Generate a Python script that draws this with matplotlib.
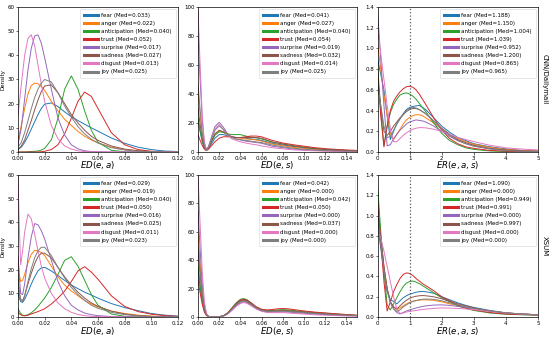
import matplotlib
matplotlib.use('Agg')
import matplotlib.pyplot as plt

emotions = ['fear', 'anger', 'anticipation', 'trust', 'surprise', 'sadness', 'disgust', 'joy']

ed_a_x_cnn = [0, .0025, .005, .0075, .01, .0125, .015, .0175, .02, .025, .03, .035, .04,
              .045, .05, .055, .06, .07, .08, .09, .10, .11, .12]
ed_a_x_xsum = [0, .001, .002, .0035, .005, .0075, .01, .0125, .015, .0175, .02, .025, .03,
               .035, .04, .045, .05, .055, .06, .07, .08, .09, .10, .11, .12]
ed_s_x_cnn = [0, .002, .004, .006, .008, .01, .013, .016, .02, .024, .028, .032, .036, .04,
              .045, .05, .055, .06, .07, .08, .09, .10, .11, .12, .13, .14, .15]
ed_s_x_xsum = [0, .002, .004, .006, .008, .01, .012, .016, .02, .024, .028, .032, .036, .04,
               .043, .046, .05, .055, .06, .065, .07, .075, .08, .085, .09, .1, .11, .12,
               .13, .14, .15]
er_x = [0, .1, .2, .3, .4, .5, .6, .7, .8, .9, 1.0, 1.1, 1.2, 1.3, 1.4, 1.5, 1.75, 2,
        2.25, 2.5, 2.75, 3, 3.5, 4, 4.5, 5]

# ---- CNN/Dailymail: ED(e, a) ----
cnn_ed_a = [
    [1, 2, 4, 6.5, 9.5, 12.5, 15.5, 18, 19.8, 20.3, 18.8, 16.6, 14.6, 13, 11.5, 10, 8.6, 5.8, 3.6, 2, 1, 0.4, 0.2],
    [5, 11, 18, 24, 27.5, 28.5, 28.3, 27, 25.5, 21, 17, 13.5, 11, 8.5, 6.5, 5, 3.8, 2, 1, 0.5, 0.2, 0.1, 0],
    [0, 0, 0, 0.1, 0.2, 0.3, 0.4, 0.8, 1.5, 5, 14, 26, 31.5, 26, 17, 9, 4, 0.7, 0.1, 0, 0, 0, 0],
    [0, 0, 0, 0, 0, 0, 0, 0.1, 0.3, 1, 3, 7.5, 14, 21, 24.8, 23, 18, 8, 3, 1, 0.3, 0.1, 0],
    [3, 10, 22, 34, 43, 48, 48.5, 45, 39, 26, 14, 7, 3, 1.3, 0.5, 0.2, 0.1, 0, 0, 0, 0, 0, 0],
    [1, 2.5, 5, 9, 13, 17.5, 21.5, 25, 27.3, 27.8, 24.5, 20, 15.5, 12, 9, 6.5, 4.8, 2.5, 1.2, 0.5, 0.2, 0.1, 0],
    [15, 28, 40, 47, 48.5, 44, 36, 28, 21, 11, 5.5, 2.5, 1.2, 0.5, 0.2, 0.1, 0, 0, 0, 0, 0, 0, 0],
    [2, 4, 8, 13, 18, 22.5, 26, 28.5, 30, 29, 24.5, 19, 14.5, 10.5, 7.5, 5.3, 3.7, 1.8, 0.8, 0.3, 0.1, 0, 0],
]
cnn_ed_a_med = [0.033, 0.022, 0.040, 0.052, 0.017, 0.027, 0.013, 0.025]

# ---- CNN/Dailymail: ED(e, s) ----
cnn_ed_s = [
    [22, 14, 7, 2.5, 1.2, 2.5, 6, 9.5, 12, 12, 11, 10.3, 10, 10, 9.5, 9, 8.7, 8, 6, 4.8, 3.8, 3, 2.3, 1.8, 1.4, 1.1, 0.9],
    [42, 26, 12, 4, 1.3, 3, 8, 12.5, 14.5, 13.5, 11.5, 10.3, 9.8, 9.5, 9, 8.8, 8.3, 7.5, 5.5, 4.3, 3.2, 2.5, 1.8, 1.3, 1, 0.8, 0.6],
    [23, 15, 8, 3, 1.3, 3, 7.5, 11.5, 14, 13.5, 12.5, 12, 12, 12, 11, 10.3, 9.8, 9, 6.8, 5.5, 4.3, 3.3, 2.5, 1.8, 1.4, 1.1, 0.9],
    [12, 8, 4.5, 2, 1, 2, 4.5, 7, 9.5, 10.5, 10.5, 10.3, 10, 10, 10.5, 11, 11, 10.5, 8, 6.2, 5, 4, 3, 2.3, 1.8, 1.4, 1.1],
    [82, 50, 22, 6, 1.5, 4, 11, 17.5, 20.5, 17, 12.5, 10, 9, 8.3, 7.5, 7, 6.5, 6, 4, 3, 2, 1.5, 1.1, 0.8, 0.6, 0.5, 0.4],
    [30, 19, 9, 3, 1.2, 3, 8, 12.5, 15, 14, 12, 10.5, 10, 10, 10, 10, 10, 9.5, 7, 5.5, 4.2, 3.2, 2.4, 1.8, 1.3, 1, 0.8],
    [98, 60, 25, 7, 1.5, 3.5, 10, 16, 19, 15.5, 11.5, 9, 8, 7, 6.2, 5.5, 5, 4.2, 3, 2.2, 1.5, 1.1, 0.8, 0.6, 0.4, 0.3, 0.2],
    [47, 29, 13, 4, 1.3, 3.5, 9.5, 15, 18, 15.5, 12, 10, 9, 8.5, 8, 7.5, 7, 6.5, 4.8, 3.6, 2.6, 1.9, 1.4, 1, 0.8, 0.6, 0.5],
]
cnn_ed_s_med = [0.041, 0.027, 0.040, 0.054, 0.019, 0.032, 0.014, 0.025]

# ---- CNN/Dailymail: ER(e, a, s) ----
cnn_er = [
    [0.9, 0.75, 0.6, 0.35, 0.12, 0.2, 0.27, 0.32, 0.37, 0.41, 0.43, 0.44, 0.445, 0.45, 0.43, 0.41, 0.33, 0.25, 0.19, 0.14, 0.11, 0.08, 0.05, 0.03, 0.015, 0.01],
    [1.05, 0.8, 0.55, 0.35, 0.18, 0.12, 0.17, 0.22, 0.27, 0.31, 0.335, 0.35, 0.36, 0.36, 0.35, 0.33, 0.28, 0.22, 0.17, 0.13, 0.1, 0.075, 0.045, 0.025, 0.015, 0.01],
    [0.85, 0.4, 0.06, 0.25, 0.38, 0.46, 0.51, 0.55, 0.565, 0.57, 0.56, 0.54, 0.51, 0.47, 0.43, 0.39, 0.28, 0.18, 0.11, 0.07, 0.04, 0.025, 0.01, 0.005, 0.003, 0.002],
    [0.78, 0.35, 0.05, 0.25, 0.4, 0.49, 0.54, 0.58, 0.61, 0.63, 0.635, 0.625, 0.6, 0.56, 0.51, 0.46, 0.33, 0.21, 0.13, 0.08, 0.05, 0.035, 0.015, 0.008, 0.004, 0.002],
    [1.38, 0.9, 0.45, 0.06, 0.07, 0.13, 0.17, 0.21, 0.24, 0.27, 0.29, 0.3, 0.31, 0.305, 0.3, 0.29, 0.25, 0.2, 0.15, 0.11, 0.08, 0.06, 0.03, 0.015, 0.008, 0.005],
    [0.72, 0.45, 0.2, 0.16, 0.2, 0.25, 0.29, 0.33, 0.36, 0.39, 0.41, 0.42, 0.42, 0.41, 0.39, 0.37, 0.3, 0.23, 0.17, 0.12, 0.09, 0.065, 0.035, 0.02, 0.01, 0.006],
    [1.2, 0.95, 0.7, 0.45, 0.22, 0.1, 0.1, 0.13, 0.16, 0.185, 0.205, 0.22, 0.23, 0.235, 0.235, 0.233, 0.22, 0.2, 0.17, 0.14, 0.12, 0.1, 0.065, 0.04, 0.028, 0.02],
    [0.68, 0.45, 0.25, 0.14, 0.15, 0.21, 0.27, 0.32, 0.36, 0.4, 0.42, 0.43, 0.425, 0.41, 0.39, 0.37, 0.3, 0.22, 0.16, 0.11, 0.08, 0.055, 0.03, 0.015, 0.008, 0.005],
]
cnn_er_med = [1.188, 1.150, 1.004, 1.039, 0.952, 1.200, 0.865, 0.965]

# ---- XSUM: ED(e, a) ----
xsum_ed_a = [
    [10, 8, 6.5, 6.2, 7.5, 10.5, 14, 17, 19.5, 20.8, 21, 19.5, 17.5, 15.5, 13.5, 12, 10.5, 9.3, 8, 5.7, 4, 2.7, 1.5, 0.8, 0.4],
    [25, 18, 15, 15.5, 18, 23, 26.5, 28.2, 28, 27.3, 26, 21.5, 17, 13.5, 11, 9, 7, 5.5, 4.3, 2.5, 1.5, 0.8, 0.4, 0.2, 0.1],
    [3.5, 2.5, 1.5, 0.8, 0.6, 1, 1.8, 3, 4.5, 6.3, 8, 12.5, 18, 24, 25.5, 21.5, 15.5, 9.5, 5, 1.3, 0.3, 0.1, 0, 0, 0],
    [1.8, 1.4, 1, 0.6, 0.5, 0.8, 1.3, 1.8, 2.3, 2.9, 3.5, 5.5, 8, 11, 15, 19.5, 21.3, 19, 16, 9, 4.5, 2.3, 1.2, 0.6, 0.3],
    [26, 17, 10, 9.5, 14, 25, 34, 39.5, 39, 36.5, 33, 24, 15, 9, 5, 3, 1.7, 1, 0.6, 0.2, 0.1, 0, 0, 0, 0],
    [15, 10, 7.5, 7, 9, 14, 18.5, 22.5, 25.5, 27, 27, 25, 21, 17, 13.5, 10.5, 8, 6, 4.5, 2.5, 1.3, 0.6, 0.3, 0.1, 0],
    [60, 38, 22, 28, 36, 43.5, 41.5, 35, 28, 21.5, 16.5, 10, 6, 3.5, 2, 1.1, 0.6, 0.3, 0.2, 0.1, 0, 0, 0, 0, 0],
    [18, 11, 7, 6.5, 9, 15, 20.5, 25, 28, 29.5, 29.5, 26, 21, 16.5, 12.5, 9.5, 7, 5, 3.7, 2, 1, 0.5, 0.2, 0.1, 0],
]
xsum_ed_a_med = [0.029, 0.019, 0.040, 0.050, 0.016, 0.025, 0.011, 0.023]

# ---- XSUM: ED(e, s) ----
xsum_ed_s = [
    [33, 21, 11, 4.5, 1.5, 0.4, 0.1, 0, 0.2, 0.8, 2.5, 5.5, 8.5, 10.8, 11.5, 11, 9, 6.5, 4.8, 4.2, 4.2, 4.3, 4.4, 4.2, 3.9, 3.3, 2.8, 2.3, 1.8, 1.4, 1],
    [58, 38, 19, 7, 2, 0.5, 0.1, 0, 0.2, 0.9, 2.8, 6, 9.3, 11.8, 12.3, 11.8, 9.6, 6.8, 5, 4.4, 4.4, 4.6, 4.8, 4.6, 4.2, 3.5, 2.9, 2.4, 1.9, 1.5, 1.1],
    [36, 23, 12, 5, 1.5, 0.4, 0.1, 0, 0.3, 1, 3, 6.5, 10, 12.5, 13, 12.3, 10, 7, 5.2, 4.6, 4.7, 5, 5.2, 5, 4.6, 3.8, 3.2, 2.7, 2.2, 1.6, 1.2],
    [26, 17, 9, 3.5, 1, 0.3, 0.1, 0, 0.2, 0.9, 2.8, 6, 9.5, 12, 12.5, 12, 10, 7.2, 5.5, 5, 5.3, 5.8, 6, 5.8, 5.3, 4.3, 3.5, 2.9, 2.3, 1.8, 1.3],
    [75, 48, 23, 8, 2, 0.5, 0.1, 0, 0.2, 0.7, 2.3, 5, 8, 10, 10.8, 10.3, 8.5, 6, 4.3, 3.6, 3.5, 3.6, 3.7, 3.5, 3.2, 2.6, 2.1, 1.7, 1.3, 1, 0.8],
    [46, 30, 15, 5.5, 1.6, 0.4, 0.1, 0, 0.2, 0.8, 2.6, 5.7, 9, 11.5, 12, 11.5, 9.3, 6.6, 4.9, 4.3, 4.3, 4.5, 4.7, 4.5, 4.1, 3.4, 2.8, 2.3, 1.8, 1.4, 1],
    [100, 65, 32, 11, 2.5, 0.5, 0.1, 0, 0.2, 0.6, 2, 4.6, 7.5, 9.5, 10.2, 9.7, 8, 5.6, 4, 3.3, 3.1, 3.1, 3.1, 2.9, 2.6, 2.1, 1.6, 1.3, 1, 0.8, 0.6],
    [50, 32, 16, 6, 1.7, 0.4, 0.1, 0, 0.2, 0.8, 2.5, 5.5, 8.7, 11, 11.2, 10.8, 9, 6.4, 4.7, 4.1, 4, 4.1, 4.2, 4, 3.7, 3.1, 2.5, 2.1, 1.6, 1.3, 1],
]
xsum_ed_s_med = [0.042, 0.000, 0.042, 0.050, 0.000, 0.037, 0.000, 0.000]

# ---- XSUM: ER(e, a, s) ----
xsum_er = [
    [0.92, 0.68, 0.45, 0.25, 0.17, 0.155, 0.13, 0.16, 0.19, 0.21, 0.225, 0.235, 0.245, 0.25, 0.252, 0.25, 0.235, 0.2, 0.17, 0.14, 0.115, 0.095, 0.065, 0.042, 0.03, 0.022],
    [1.1, 0.8, 0.5, 0.28, 0.15, 0.1, 0.07, 0.09, 0.11, 0.13, 0.145, 0.155, 0.162, 0.167, 0.17, 0.17, 0.165, 0.15, 0.13, 0.115, 0.1, 0.085, 0.06, 0.04, 0.03, 0.022],
    [1.3, 0.85, 0.45, 0.12, 0.07, 0.13, 0.19, 0.25, 0.3, 0.335, 0.35, 0.355, 0.345, 0.33, 0.31, 0.29, 0.24, 0.19, 0.15, 0.11, 0.085, 0.065, 0.04, 0.028, 0.022, 0.018],
    [1.15, 0.75, 0.35, 0.06, 0.15, 0.25, 0.32, 0.38, 0.42, 0.435, 0.43, 0.41, 0.38, 0.355, 0.33, 0.31, 0.26, 0.2, 0.16, 0.12, 0.09, 0.07, 0.045, 0.03, 0.025, 0.02],
    [1.05, 0.75, 0.48, 0.28, 0.15, 0.08, 0.045, 0.03, 0.045, 0.06, 0.07, 0.08, 0.09, 0.097, 0.104, 0.11, 0.118, 0.12, 0.115, 0.105, 0.095, 0.085, 0.06, 0.04, 0.03, 0.022],
    [1.08, 0.78, 0.5, 0.28, 0.15, 0.1, 0.08, 0.11, 0.14, 0.165, 0.185, 0.197, 0.205, 0.21, 0.212, 0.21, 0.2, 0.18, 0.155, 0.13, 0.11, 0.09, 0.06, 0.04, 0.03, 0.022],
    [0.88, 0.78, 0.65, 0.5, 0.35, 0.2, 0.08, 0.035, 0.04, 0.05, 0.055, 0.06, 0.065, 0.07, 0.075, 0.078, 0.085, 0.09, 0.088, 0.085, 0.08, 0.073, 0.055, 0.04, 0.03, 0.022],
    [1.0, 0.72, 0.46, 0.26, 0.14, 0.08, 0.055, 0.07, 0.1, 0.12, 0.14, 0.153, 0.163, 0.17, 0.175, 0.177, 0.175, 0.16, 0.14, 0.12, 0.1, 0.085, 0.06, 0.04, 0.03, 0.022],
]
xsum_er_med = [1.090, 0.000, 0.949, 0.991, 0.000, 0.997, 0.000, 0.000]

# Set up figure:
fig = plt.figure(figsize=(5.5, 3.38), dpi=100)

col_left = [0.0327, 0.36, 0.6864]
col_width = [0.2909, 0.289, 0.2918]
row_bottom = [0.5503, 0.062]
row_height = [0.429, 0.420]

panels = [
    (0, 0, ed_a_x_cnn, cnn_ed_a, cnn_ed_a_med, 'ed_a'),
    (0, 1, ed_s_x_cnn, cnn_ed_s, cnn_ed_s_med, 'ed_s'),
    (0, 2, er_x, cnn_er, cnn_er_med, 'er'),
    (1, 0, ed_a_x_xsum, xsum_ed_a, xsum_ed_a_med, 'ed_a'),
    (1, 1, ed_s_x_xsum, xsum_ed_s, xsum_ed_s_med, 'ed_s'),
    (1, 2, er_x, xsum_er, xsum_er_med, 'er'),
]

for row, col, xs, curves, meds, kind in panels:
    ax = fig.add_axes([col_left[col], row_bottom[row], col_width[col], row_height[row]])
    for i, (name, ys) in enumerate(zip(emotions, curves)):
        ax.plot(xs, ys, color=f'C{i}', lw=0.7, label=f'{name} (Med={meds[i]:.3f})')

    if kind == 'ed_a':
        ax.set_xlim(0, 0.12)
        ax.set_ylim(0, 60)
        ax.set_xticks([0, .02, .04, .06, .08, .10, .12])
        ax.set_xticklabels(['0.00', '0.02', '0.04', '0.06', '0.08', '0.10', '0.12'])
        ax.set_yticks(range(0, 61, 10))
        ax.set_xlabel('$ED(e, a)$', fontsize=6.2, labelpad=-0.8)
        ax.set_ylabel('Density', fontsize=4, labelpad=1)
    elif kind == 'ed_s':
        ax.set_xlim(0, 0.15)
        ax.set_ylim(0, 100)
        ax.set_xticks([0, .02, .04, .06, .08, .10, .12, .14])
        ax.set_xticklabels(['0.00', '0.02', '0.04', '0.06', '0.08', '0.10', '0.12', '0.14'])
        ax.set_yticks(range(0, 101, 20))
        ax.set_xlabel('$ED(e, s)$', fontsize=6.2, labelpad=-0.8)
    else:
        ax.set_xlim(0, 5)
        ax.set_ylim(0, 1.4)
        ax.set_yticks([0, .2, .4, .6, .8, 1.0, 1.2, 1.4])
        ax.set_yticklabels(['0.0', '0.2', '0.4', '0.6', '0.8', '1.0', '1.2', '1.4'])
        ax.axvline(1, color='0.35', ls=':', lw=0.9)
        ax.set_xlabel('$ER(e, a, s)$', fontsize=6.2, labelpad=-0.8)
        ax.yaxis.set_label_position('right')
        ax.set_ylabel('CNN/Dailymail' if row == 0 else 'XSUM', fontsize=5,
                      rotation=270, labelpad=7)

    ax.tick_params(labelsize=4, length=1.8, width=0.4, pad=0.8)
    for s in ax.spines.values():
        s.set_linewidth(0.5)

    leg = ax.legend(loc='upper right', fontsize=4.0, handlelength=2.6, borderpad=0.7,
                    labelspacing=0.55, handletextpad=0.6, framealpha=0.8,
                    borderaxespad=0.4)
    leg.get_frame().set_linewidth(0.4)
    for line in leg.get_lines():
        line.set_linewidth(2.2)

fig.savefig('out.png', dpi=100)
